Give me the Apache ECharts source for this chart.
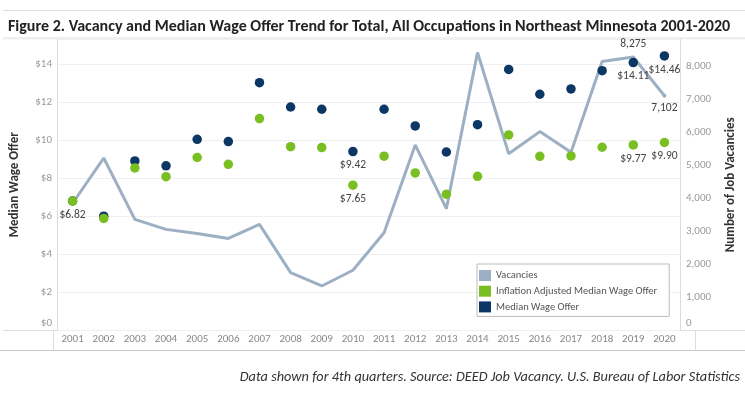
<!DOCTYPE html>
<html><head><meta charset="utf-8">
<script src="https://cdn.jsdelivr.net/npm/echarts@6/dist/echarts.min.js"></script>
<style>html,body{margin:0;padding:0;background:#fff}#c{width:745px;height:394px}</style>
</head><body><div id="c"></div>
<script>
const years = ['2001','2002','2003','2004','2005','2006','2007','2008','2009','2010','2011','2012','2013','2014','2015','2016','2017','2018','2019','2020'];
const medianWage = [6.82, 6.02, 8.93, 8.67, 10.07, 9.95, 13.05, 11.77, 11.65, 9.42, 11.65, 10.77, 9.40, 10.84, 13.75, 12.44, 12.72, 13.68, 14.11, 14.46];
const inflationWage = [6.82, 5.90, 8.56, 8.10, 9.11, 8.75, 11.16, 9.68, 9.63, 7.65, 9.18, 8.30, 7.18, 8.12, 10.30, 9.17, 9.19, 9.65, 9.77, 9.90];
const vacancies = [3850, 5218, 3364, 3060, 2938, 2786, 3212, 1753, 1347, 1824, 2958, 5614, 3687, 8410, 5350, 6018, 5390, 8137, 8275, 7102];
const medianLabelYears = ['2010','2019','2020'];
const inflationLabelYears = ['2001','2010','2019','2020'];
const vacancyLabelTop = ['2019'];
const vacancyLabelBottom = ['2020'];

const F = "Carlito, 'Liberation Sans', Arial, sans-serif";
const money = v => '$' + v.toFixed(2);
const chart = echarts.init(document.getElementById('c'), null, {renderer:'canvas'});

const labelStyle = {show:true, position:'bottom', distance:3, fontSize:11.5, color:'#444', fontFamily:F};
const vacFmt = p => p.value.toLocaleString('en-US');

chart.setOption({
  animation:false,
  textStyle:{fontFamily:F},
  title:{text:'Figure 2. Vacancy and Median Wage Offer Trend for Total, All Occupations in Northeast Minnesota 2001-2020', left:3, top:14, textStyle:{fontSize:16, fontWeight:'bold', color:'#222', fontFamily:F}},
  grid:{left:53, right:50, top:39, bottom:63.5, containLabel:false},
  legend:{orient:'vertical', left:477, top:264, icon:'rect', itemWidth:12, itemHeight:11, itemGap:4.7,
    data:['Vacancies','Inflation Adjusted Median Wage Offer','Median Wage Offer'],
    borderColor:'#bbb', borderWidth:1, backgroundColor:'#fff', padding:[6,12,4,2],
    textStyle:{fontSize:10.5, color:'#555', fontFamily:F}},
  xAxis:{type:'category', data:years, boundaryGap:true,
    axisLine:{show:false}, axisTick:{show:false},
    axisLabel:{color:'#888', fontSize:11, margin:3, interval:0, fontFamily:F}},
  yAxis:[
    {type:'value', min:0, max:15.35, interval:2, position:'left',
     name:'Median Wage Offer', nameLocation:'middle', nameGap:36, nameRotate:90,
     nameTextStyle:{fontSize:13, fontWeight:'bold', color:'#333', fontFamily:F},
     axisLine:{show:true, lineStyle:{color:'#ddd'}}, axisTick:{show:false},
     splitLine:{lineStyle:{color:'#f0f0f0'}},
     axisLabel:{color:'#999', fontSize:11, margin:5, showMaxLabel:false, fontFamily:F,
       formatter:v => v===0 ? '{z|$0}' : '$'+v, rich:{z:{padding:[0,0,14,0], color:'#999', fontSize:11, fontFamily:F}}}},
    {type:'value', min:0, max:8820, interval:1000, position:'right',
     name:'Number of Job Vacancies', nameLocation:'middle', nameGap:44, nameRotate:90,
     nameTextStyle:{fontSize:13, fontWeight:'bold', color:'#333', fontFamily:F},
     axisLine:{show:true, lineStyle:{color:'#ddd'}}, axisTick:{show:false},
     splitLine:{show:false},
     axisLabel:{color:'#999', fontSize:11, margin:6, showMaxLabel:false, fontFamily:F,
       formatter:v => v===0 ? '{z|0}' : v.toLocaleString('en-US'), rich:{z:{padding:[0,0,14,0], color:'#999', fontSize:11, fontFamily:F}}}}
  ],
  graphic:[
    {type:'line', shape:{x1:3,y1:10.5,x2:745,y2:10.5}, style:{stroke:'#ddd', lineWidth:1}, silent:true},
    {type:'rect', shape:{x:3,y:37,width:742,height:2.5}, style:{fill:'#efefef'}, silent:true},
    {type:'line', shape:{x1:3,y1:330.5,x2:745,y2:330.5}, style:{stroke:'#ddd', lineWidth:1}, silent:true},
    {type:'line', shape:{x1:0,y1:350.5,x2:745,y2:350.5}, style:{stroke:'#ccc', lineWidth:1}, silent:true},
    {type:'line', shape:{x1:53.5,y1:330,x2:53.5,y2:350}, style:{stroke:'#ddd', lineWidth:1}, silent:true},
    {type:'line', shape:{x1:695.5,y1:330,x2:695.5,y2:350}, style:{stroke:'#ddd', lineWidth:1}, silent:true},
    {type:'text', right:5, top:370, style:{text:'Data shown for 4th quarters. Source: DEED Job Vacancy. U.S. Bureau of Labor Statistics', fontSize:14.3, fontStyle:'italic', fill:'#333', fontFamily:F}}
  ],
  series:[
    {name:'Vacancies', type:'line', yAxisIndex:1, z:2, color:'#9db0c3', showSymbol:true, symbol:'circle', symbolSize:0,
     itemStyle:{color:'#9db0c3'}, lineStyle:{width:3, color:'#9db0c3'},
     data:vacancies.map((v,i)=>{
       const o={value:v};
       if (vacancyLabelTop.includes(years[i])) o.label={show:true, position:'top', distance:7, fontSize:11.5, color:'#444', fontFamily:F, formatter:vacFmt};
       if (vacancyLabelBottom.includes(years[i])) {o.label={show:true, position:'bottom', distance:4, fontSize:11.5, color:'#444', fontFamily:F, formatter:vacFmt}; o.symbolSize=4;}
       return o;})},
    {name:'Median Wage Offer', type:'scatter', z:3, color:'#0b3765', symbolSize:9.5, itemStyle:{color:'#0b3765', opacity:1},
     data:medianWage.map((v,i)=>{ const o={value:v}; if (medianLabelYears.includes(years[i])) o.label=Object.assign({},labelStyle,{formatter:p=>money(p.value)}); return o;})},
    {name:'Inflation Adjusted Median Wage Offer', type:'scatter', z:4, color:'#79bf21', symbolSize:9.5, itemStyle:{color:'#79bf21', opacity:1},
     data:inflationWage.map((v,i)=>{ const o={value:v}; if (inflationLabelYears.includes(years[i])) o.label=Object.assign({},labelStyle,{formatter:p=>money(p.value)}); return o;})}
  ]
});
</script></body></html>
